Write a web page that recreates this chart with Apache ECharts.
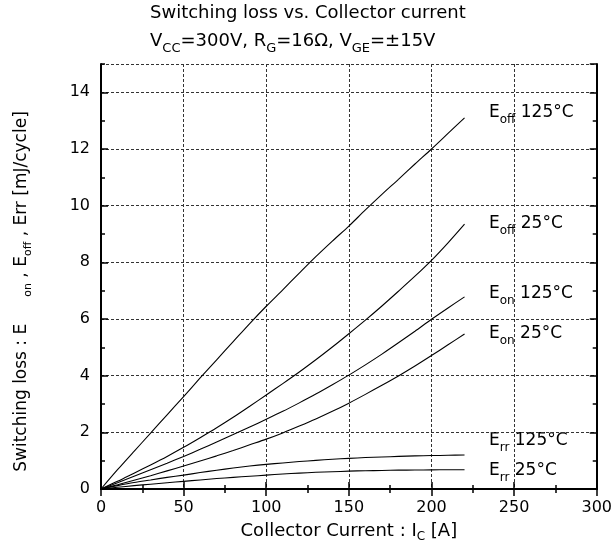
<!DOCTYPE html>
<html>
<head>
<meta charset="utf-8">
<script src="https://cdn.jsdelivr.net/npm/echarts@6/dist/echarts.min.js"></script>
<style>html,body{margin:0;padding:0;background:#fff}#c{width:615px;height:556px}</style>
</head>
<body>
<div id="c"></div>
<script>
var current = [0,10,20,30,40,50,60,70,80,90,100,110,120,130,140,150,160,170,180,190,200,210,220];
var eoff125 = [0,0.68,1.33,1.97,2.62,3.26,3.92,4.56,5.2,5.84,6.45,7.03,7.62,8.2,8.75,9.28,9.85,10.4,10.93,11.47,12.0,12.55,13.1];
var eoff25  = [0,0.27,0.56,0.85,1.15,1.47,1.81,2.16,2.53,2.92,3.32,3.72,4.13,4.56,5.01,5.48,5.96,6.46,6.98,7.51,8.07,8.69,9.35];
var eon125  = [0,0.22,0.45,0.68,0.91,1.15,1.4,1.66,1.92,2.19,2.46,2.74,3.04,3.35,3.68,4.02,4.38,4.76,5.16,5.57,5.99,6.39,6.78];
var eon25   = [0,0.15,0.31,0.47,0.64,0.81,0.99,1.17,1.36,1.56,1.76,1.98,2.22,2.47,2.74,3.03,3.34,3.66,3.99,4.34,4.71,5.09,5.47];
var err125  = [0,0.12,0.23,0.32,0.41,0.49,0.58,0.66,0.74,0.81,0.87,0.92,0.97,1.01,1.05,1.08,1.11,1.13,1.15,1.17,1.18,1.19,1.2];
var err25   = [0,0.06,0.12,0.17,0.22,0.27,0.32,0.37,0.41,0.45,0.49,0.53,0.56,0.59,0.61,0.63,0.645,0.655,0.665,0.67,0.675,0.68,0.68];
var seriesNames = ['Eoff 125°C','Eoff 25°C','Eon 125°C','Eon 25°C','Err 125°C','Err 25°C'];
var curveLabels = [
  ['E','off',' 125°C'],
  ['E','off',' 25°C'],
  ['E','on',' 125°C'],
  ['E','on',' 25°C'],
  ['E','rr',' 125°C'],
  ['E','rr',' 25°C']
];
var allSeries = [eoff125, eoff25, eon125, eon25, err125, err25];

var FONT = 'DejaVu Sans';
var chart = echarts.init(document.getElementById('c'), null, {renderer:'canvas'});

function pairs(ys){ return current.map(function(x,i){ return [x, ys[i]]; }); }

var rich = {
  n: {fontFamily: FONT, fontSize: 17, fontWeight: 'normal', color: '#000', lineHeight: 26, verticalAlign: 'middle'},
  s: {fontFamily: FONT, fontSize: 12, fontWeight: 'normal', color: '#000', lineHeight: 12, verticalAlign: 'bottom'}
};

var labelY = [117, 228, 298, 338, 445, 475];
var graphics = curveLabels.map(function(l, i){
  return {
    type: 'text', left: 489, top: labelY[i] - 13,
    style: {
      text: '{n|' + l[0] + '}{s|' + l[1] + '}{n|' + l[2] + '}',
      rich: rich
    }
  };
});

var xTickBase = {
  type: 'value', min: 0, max: 300, interval: 50,
  axisLine: {show: true, lineStyle: {color: '#000', width: 2}},
  axisTick: {show: true, inside: true, length: 7, lineStyle: {color: '#000', width: 1.5}},
  minorTick: {show: true, splitNumber: 2, length: 4, lineStyle: {color: '#000', width: 1.5}},
  splitLine: {show: false}
};

var option = {
  animation: false,
  backgroundColor: '#fff',
  title: [
    {text: 'Switching loss vs. Collector current', left: 150, top: 4, padding: 0,
     textStyle: {fontFamily: FONT, fontSize: 18, fontWeight: 'normal', color: '#000'}},
    {text: '{n|V}{s|CC}{n|=300V, R}{s|G}{n|=16Ω, V}{s|GE}{n|=±15V}', left: 150, top: 27, padding: 0,
     textStyle: {fontWeight: 'normal', rich: {
       n: {fontFamily: FONT, fontSize: 18, fontWeight: 'normal', color: '#000', lineHeight: 28, verticalAlign: 'middle'},
       s: {fontFamily: FONT, fontSize: 13, fontWeight: 'normal', color: '#000', lineHeight: 13, verticalAlign: 'bottom'}
     }}}
  ],
  grid: {left: 101, right: 18, top: 64, bottom: 67, containLabel: false},
  xAxis: [
    Object.assign({}, xTickBase, {
      position: 'bottom',
      axisLabel: {show: true, fontFamily: FONT, fontSize: 16, color: '#000', margin: 11},
      splitLine: {show: true, lineStyle: {color: '#333', type: [3, 2], width: 1}},
      name: '{n|Collector Current : I}{s|C}{n| [A]}',
      nameLocation: 'middle', nameGap: 30,
      nameTextStyle: {rich: {
        n: {fontFamily: FONT, fontSize: 18, color: '#000', lineHeight: 24, verticalAlign: 'middle'},
        s: {fontFamily: FONT, fontSize: 12, color: '#000', lineHeight: 12, verticalAlign: 'bottom'}
      }}
    }),
    Object.assign({}, xTickBase, {position: 'top', axisLabel: {show: false}})
  ],
  yAxis: [
    {
      type: 'value', position: 'left', min: 0, max: 15, interval: 2,
      axisLine: {show: true, lineStyle: {color: '#000', width: 2}},
      axisTick: {show: true, inside: true, length: 7, lineStyle: {color: '#000', width: 1.5}},
      axisLabel: {show: true, fontFamily: FONT, fontSize: 16, color: '#000', margin: 11, showMaxLabel: false},
      splitLine: {show: true, lineStyle: {color: '#333', type: [3, 2], width: 1}},
      name: '{n|Switching loss : E     }{s|on}{n| , E}{s|off}{n| , Err [mJ/cycle]}',
      nameLocation: 'middle', nameRotate: 90, nameGap: 67,
      nameTextStyle: {padding: [0, 30, 0, 0], rich: {
        n: {fontFamily: FONT, fontSize: 17, color: '#000', lineHeight: 24, verticalAlign: 'middle'},
        s: {fontFamily: FONT, fontSize: 11, color: '#000', lineHeight: 11, verticalAlign: 'bottom'}
      }}
    },
    {
      type: 'value', position: 'left', min: 0, max: 15, interval: 1,
      axisLine: {show: false},
      axisTick: {show: true, inside: true, length: 4, lineStyle: {color: '#000', width: 1.5}},
      axisLabel: {show: false}, splitLine: {show: false}
    },
    {
      type: 'value', position: 'right', min: 0, max: 15, interval: 2,
      axisLine: {show: true, lineStyle: {color: '#000', width: 2}},
      axisTick: {show: true, inside: true, length: 7, lineStyle: {color: '#000', width: 1.5}},
      axisLabel: {show: false}, splitLine: {show: false}
    },
    {
      type: 'value', position: 'right', min: 0, max: 15, interval: 1,
      axisLine: {show: false},
      axisTick: {show: true, inside: true, length: 4, lineStyle: {color: '#000', width: 1.5}},
      axisLabel: {show: false}, splitLine: {show: false}
    }
  ],
  series: allSeries.map(function(ys, i){
    return {
      name: seriesNames[i], type: 'line', xAxisIndex: 0, yAxisIndex: 0,
      data: pairs(ys), smooth: 0.3, showSymbol: false, symbol: 'none',
      lineStyle: {color: '#000', width: 1.1}, z: 3
    };
  }),
  graphic: graphics
};
chart.setOption(option);
</script>
</body>
</html>
